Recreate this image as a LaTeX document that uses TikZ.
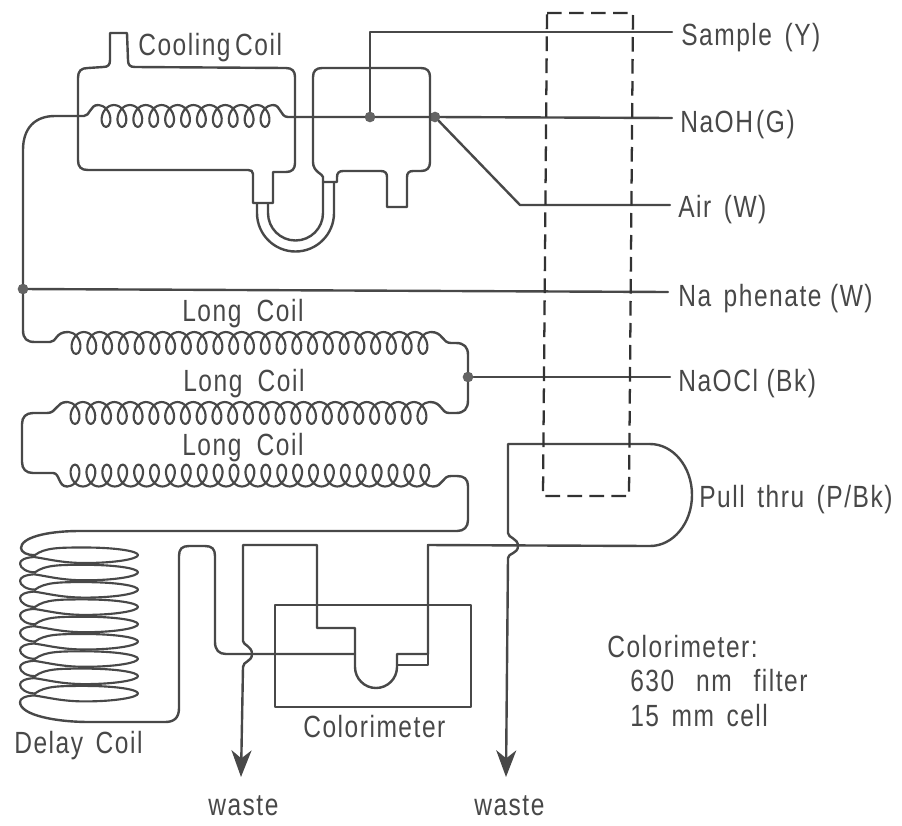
\documentclass[tikz,border=0pt]{standalone}
\usepackage{fontspec}
\setmainfont[FakeStretch=0.8,LetterSpace=5,WordSpace=1.5]{Liberation Sans}
\usetikzlibrary{arrows.meta}
\definecolor{ink}{HTML}{484848}
\tikzset{
  ln/.style={draw=ink,line width=1.8pt,line join=round,line cap=round},
  lbl/.style={anchor=base west,inner sep=0pt,text=ink,font=\fontsize{23}{27}\selectfont},
  dotj/.style={circle,fill=ink!85,inner sep=0pt,minimum size=8pt},
  dashbox/.style={draw=ink!70!black,line width=1.7pt,dash pattern=on 11pt off 5.5pt},
  wasteline/.style={ln,-{Stealth[length=20pt,width=15pt,inset=6pt]}}
}
\newcommand{\coilplot}[5]{% first loop x, spacing, loops, centre y, height (sign = side)
  \draw[ln,line width=1.6pt] plot[smooth,variable=\t,domain=-180:{(#3-1)*360+180},samples={#3*14+1}]
    ({#1+#2*(\t/360)-8*sin(\t)},{#4+#5*cos(\t)});}
\begin{document}
\begin{tikzpicture}[x=0.75pt,y=-0.75pt]
\useasboundingbox (0,0) rectangle (902,825);
\fill[white] (0,0) rectangle (902,825);

% labels
\node[lbl] (lsample) at (681,45) {Sample (Y)};
\node[lbl] (lnaoh) at (680,132) {NaOH\hspace{-7pt} (G)};
\node[lbl] (lair) at (678,217) {Air (W)};
\node[lbl] (lphen) at (678,306) {Na phenate\hspace{-3pt} (W)};
\node[lbl] (lnaocl) at (678,391) {NaOCl\hspace{-3pt} (Bk)};
\node[lbl] (lpull) at (699,507) {Pull thru (P/Bk)};
\node[lbl] (lcool) at (138,55) {Cooling\hspace{-6pt} Coil};
\node[lbl] (llong1) at (182,321) {Long\hspace{2pt} Coil};
\node[lbl] (llong2) at (183,391) {Long\hspace{2pt} Coil};
\node[lbl] (llong3) at (182,455) {Long\hspace{2pt} Coil};
\node[lbl] (ldelay) at (14,753) {Delay Coil};
\node[lbl] (lcolor) at (303,737) {Colorimeter};
\node[lbl] (lw1) at (208,815) {waste};
\node[lbl] (lw2) at (474,815) {waste};
\node[lbl] (ln1) at (607,657) {Colorimeter:};
\node[lbl] (ln2) at (630,691) {630\hspace{7pt} nm\hspace{7pt} filter};
\node[lbl] (ln3) at (630,726) {15 mm cell};

% junctions and free ends
\node[dotj] (ja) at (370,117) {};
\node[dotj] (jb) at (435,117) {};
\node[dotj] (jc) at (23,289) {};
\node[dotj] (jd) at (468,377) {};
\coordinate (esample) at (672,32);
\coordinate (enaoh) at (672,118);
\coordinate (eair) at (670,205);
\coordinate (ephen) at (668,292);
\coordinate (enaocl) at (670,377);
\coordinate (tw1) at (241,777);
\coordinate (tw2) at (506,777);

% cooling jacket
\draw[ln] (110,33) -- (127,33) -- (128,60) .. controls (128,65) and (130,67) .. (135,67)
  -- (286,68) .. controls (292,68) and (295,71) .. (295,77) -- (295,163)
  .. controls (295,169) and (292,172) .. (286,172) -- (273,172) -- (273,203) -- (253,203) -- (253,174)
  .. controls (253,171) and (251,170) .. (248,170) -- (88,170)
  .. controls (81,170) and (78,167) .. (78,160) -- (78,78)
  .. controls (78,71) and (81,68) .. (88,68) -- (103,67)
  .. controls (108,67) and (110,65) .. (110,60) -- cycle;
% second jacket
\draw[ln] (322,68) -- (421,68) .. controls (427,68) and (430,71) .. (430,77) -- (430,162)
  .. controls (430,168) and (427,171) .. (421,171) -- (413,171)
  .. controls (409,171) and (407,173) .. (407,177) -- (407,207) -- (387,207) -- (387,177)
  .. controls (387,173) and (385,171) .. (381,171) -- (343,171)
  .. controls (339,171) and (337,173) .. (337,177) -- (337,182) -- (323,182) -- (323,177)
  .. controls (323,174) and (313,172) .. (313,162) -- (313,77)
  .. controls (313,71) and (316,68) .. (322,68) -- cycle;
% U tube
\draw[ln] (257,204) -- (257,213) arc (180:0:38.5) -- (334,182);
\draw[ln] (268,204) -- (268,213) arc (180:0:27.5) -- (323,182);

% cooling coil and main line
\coilplot{106}{15.9}{11}{116}{11}
\draw[ln] (jc) -- (23,150) .. controls (23,128) and (35,116) .. (55,116) -- (84,116)
  .. controls (90,116) and (90,105) .. (98,105);
\draw[ln] (273,105) .. controls (281,105) and (280,117) .. (288,117) -- (ja) -- (jb) -- (enaoh);
\draw[ln] (ja) -- (370,32) -- (esample);
\draw[ln] (jb) -- (520,205) -- (eair);
\draw[ln] (jc) -- (ephen);
\draw[ln] (jd) -- (enaocl);

% long coils
\coilplot{76}{15.77}{23}{343}{11}
\coilplot{75}{15.77}{23}{413}{11}
\coilplot{75}{15.9}{23}{475.5}{-11}
\draw[ln] (jc) -- (23,330) .. controls (23,339) and (27,342) .. (35,342) -- (50,342)
  .. controls (57,342) and (55,332) .. (68,332);
\draw[ln] (431,332) .. controls (443,332) and (442,343) .. (451,343) -- (456,343)
  .. controls (464,343) and (468,347) .. (468,355) -- (jd) -- (468,400)
  .. controls (468,409) and (464,413) .. (456,413) -- (449,413)
  .. controls (441,413) and (442,402) .. (430,402);
\draw[ln] (67,402) .. controls (56,402) and (57,413) .. (47,413) -- (33,413)
  .. controls (26,413) and (22,417) .. (22,424) -- (22,462)
  .. controls (22,469) and (26,473) .. (33,473) -- (53,473)
  .. controls (60,473) and (58,486.5) .. (67,486.5);
\draw[ln] (433,486.5) .. controls (443,486.5) and (442,476) .. (451,476) -- (457,476)
  .. controls (464,476) and (468,479) .. (468,486) -- (468,520)
  .. controls (468,527) and (464,531) .. (457,531) -- (80,531)
  .. controls (45,531) and (21,538) .. (21,548)
  .. controls (21,552) and (27,555.5) .. (35,555);

% delay coil
\foreach \n in {0,...,8} {
  \pgfmathsetmacro{\c}{555+17.3*\n}
  \pgfmathsetmacro{\ca}{\c-7.5}
  \pgfmathsetmacro{\cb}{\c-4}
  \pgfmathsetmacro{\cc}{\c+4}
  \pgfmathsetmacro{\cd}{\c+8}
  \pgfmathsetmacro{\ce}{\c+2}
  \pgfmathsetmacro{\cf}{\c+2.6}
  \pgfmathsetmacro{\cg}{\c+5}
  \pgfmathsetmacro{\ch}{\c+8.6}
  \pgfmathsetmacro{\ci}{\c+13}
  \pgfmathsetmacro{\cj}{\c+17.5}
  \pgfmathsetmacro{\ck}{\c+17.3}
  \draw[ln,line width=1.6pt] (35,\c) .. controls (45,\ca) and (60,\ca) .. (85,\ca)
    .. controls (115,\ca) and (138,\cb) .. (138,\c)
    .. controls (138,\cc) and (115,\cd) .. (85,\cd)
    .. controls (62,\cd) and (48,\cc) .. (34,\ce)
    .. controls (25,\cf) and (20,\cg) .. (20,\ch);
  \ifnum\n<8
    \draw[ln,line width=1.6pt] (20,\ch) .. controls (20,\ci) and (27,\cj) .. (35,\ck);
  \fi
}
\draw[ln] (20,702) .. controls (20,715) and (55,722) .. (90,722) -- (165,722)
  .. controls (174,722) and (179,718) .. (179,708) -- (179,556)
  .. controls (179,549) and (182,546) .. (189,546) -- (205,546)
  .. controls (212,546) and (215,549) .. (215,556) -- (215,642)
  .. controls (215,650) and (219,654) .. (226,654) -- (251,654) -- (355,654);

% colorimeter
\draw[ln] (275,605) rectangle (471,707);
\draw[ln] (428,654) -- (397,654) -- (397,667) arc (0:180:21) -- (355,628) -- (317,628) -- (317,545) -- (243,545) -- (243,641)
  .. controls (243,645) and (252,646) .. (252,654) .. controls (252,662) and (243,661) .. (243,667);
\draw[wasteline] (243,667) -- (tw1);
\draw[ln] (397,665) -- (428,665) -- (428,654);
\draw[ln] (428,654) -- (428,545) -- (650,546) arc (90:-90:42 and 51);

% pull thru
\draw[ln] (650,444) -- (508,444) -- (508,533) .. controls (508,538) and (518,538) .. (518,546)
  .. controls (518,554) and (508,553) .. (508,558);
\draw[wasteline] (508,558) -- (tw2);

% dashed manifold outline
\draw[dashbox] (547,13) -- (633,13) -- (629,496) -- (543,496) -- cycle;
\end{tikzpicture}
\end{document}
